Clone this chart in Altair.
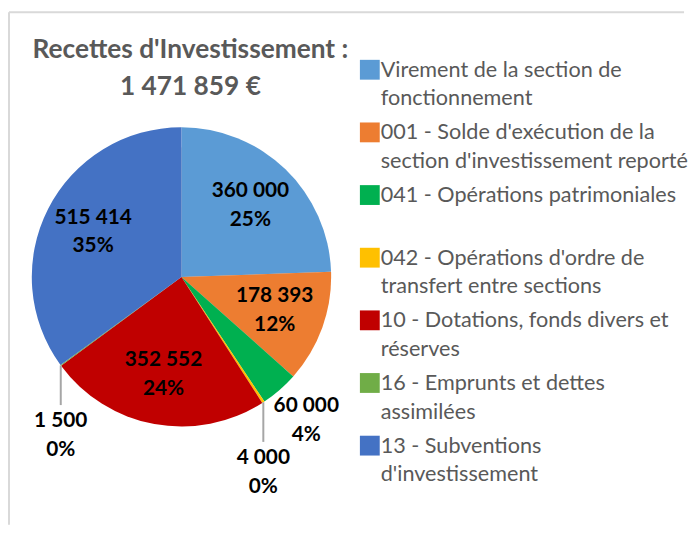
import altair as alt
import pandas as pd

categories = [
    "Virement de la section de fonctionnement",
    "001 - Solde d'exécution de la section d'investissement reporté",
    "041 - Opérations patrimoniales",
    "042 - Opérations d'ordre de transfert entre sections",
    "10 - Dotations, fonds divers et réserves",
    "16 - Emprunts et dettes assimilées",
    "13 - Subventions d'investissement",
]
legend_line1 = [
    "Virement de la section de",
    "001 - Solde d'exécution de la",
    "041 - Opérations patrimoniales",
    "042 - Opérations d'ordre de",
    "10 - Dotations, fonds divers et",
    "16 - Emprunts et dettes",
    "13 - Subventions",
]
legend_line2 = [
    "fonctionnement",
    "section d'investissement reporté",
    "",
    "transfert entre sections",
    "réserves",
    "assimilées",
    "d'investissement",
]
values = [360000, 178393, 60000, 4000, 352552, 1500, 515414]
colors = ["#5B9BD5", "#ED7D31", "#00B050", "#FFC000", "#C00000", "#70AD47", "#4472C4"]
title_lines = ["Recettes d'Investissement :", "1 471 859 €"]

# percentages rounded so that they sum to 100 (largest remainder)
total = sum(values)
raw = [v * 100 / total for v in values]
floors = [int(r) for r in raw]
rest = 100 - sum(floors)
order = sorted(range(len(raw)), key=lambda i: raw[i] - floors[i], reverse=True)
pcts = floors[:]
for i in order[:rest]:
    pcts[i] += 1

df = pd.DataFrame({
    "idx": list(range(len(values))),
    "cat": categories,
    "l1": legend_line1,
    "l2": legend_line2,
    "value": values,
    "vlab": [f"{v:,}".replace(",", " ") for v in values],
    "plab": [f"{p}%" for p in pcts],
})

W, H = 681, 519
CX, CY, R = 174, 269, 151
RIN, ROUT = 100, 192
FONT = "Lato"
GRAY = "#595959"

base = (
    alt.Chart(df)
    .transform_window(cum="sum(value)", sort=[alt.SortField("idx")], frame=[None, 0])
    .transform_joinaggregate(total="sum(value)")
    .transform_calculate(
        mid="(datum.cum - datum.value / 2) / datum.total * 2 * PI",
        share="datum.value / datum.total",
    )
    .transform_calculate(
        ex=f"{CX} + {R} * sin(datum.mid)",
        ey=f"{CY} - {R} * cos(datum.mid)",
        lr=f"datum.share >= 0.1 ? {RIN} : {ROUT}",
    )
    .transform_calculate(
        ey2="datum.ey + 40",
        lx=f"datum.share < 0.01 ? datum.ex : {CX} + datum.lr * sin(datum.mid)",
        ly=f"datum.share < 0.01 ? datum.ey + 71 : {CY} - datum.lr * cos(datum.mid)",
        legy="60 + datum.idx * 63.2",
    )
)

color = alt.Color("cat:N", scale=alt.Scale(domain=categories, range=colors), legend=None)

shadow = alt.Chart(pd.DataFrame({"a": [1]})).mark_circle(
    size=3.14159 * (R + 1) ** 2, color="#000000", opacity=0.12
).encode(x=alt.value(CX + 2), y=alt.value(CY + 4))

pie = base.mark_arc(radius=R).encode(
    theta=alt.Theta("value:Q", stack=True),
    color=color,
    order=alt.Order("idx:Q"),
    x=alt.value(CX),
    y=alt.value(CY),
)

X = lambda f: alt.X(f"{f}:Q", scale=None, axis=None)
Y = lambda f: alt.Y(f"{f}:Q", scale=None, axis=None)

lab1 = base.mark_text(font=FONT, fontSize=21, fontWeight="bold", color="#000000",
                      baseline="middle", align="center", dy=-14.5).encode(
    x=X("lx"), y=Y("ly"), text="vlab:N")
lab2 = base.mark_text(font=FONT, fontSize=21, fontWeight="bold", color="#000000",
                      baseline="middle", align="center", dy=14.5).encode(
    x=X("lx"), y=Y("ly"), text="plab:N")

leader = base.transform_filter("datum.share < 0.01").mark_rule(
    color="#A6A6A6", strokeWidth=2).encode(x=X("ex"), y=Y("ey"), y2="ey2:Q")

sq = base.mark_square(size=400, opacity=1).encode(
    x=alt.value(364), y=Y("legy"), color=color)
leg1 = base.mark_text(font=FONT, fontSize=21.8, color=GRAY, align="left",
                      baseline="middle").encode(x=alt.value(375), y=Y("legy"), text="l1:N")
leg2 = base.mark_text(font=FONT, fontSize=21.8, color=GRAY, align="left",
                      baseline="middle", dy=29).encode(x=alt.value(375), y=Y("legy"), text="l2:N")

tdf = pd.DataFrame({"t": title_lines, "k": [0, 1]})
title = alt.Chart(tdf).transform_calculate(ty="40 + datum.k * 37").mark_text(
    font=FONT, fontSize=26.5, fontWeight="bold", color=GRAY, align="center", baseline="middle"
).encode(x=alt.value(183), y=Y("ty"), text="t:N")

one = pd.DataFrame({"a": [1]})
border_top = alt.Chart(one).mark_rule(color="#D9D9D9", strokeWidth=2).encode(
    x=alt.value(0), x2=alt.value(W), y=alt.value(2))
border_left = alt.Chart(one).mark_rule(color="#D9D9D9", strokeWidth=2).encode(
    x=alt.value(0), y=alt.value(2), y2=alt.value(H))

chart = (
    alt.layer(border_top, border_left, shadow, pie, leader, lab1, lab2, sq, leg1, leg2, title)
    .resolve_scale(x="independent", y="independent")
    .properties(width=W, height=H, padding=0, background="white")
    .configure_view(stroke=None)
)

chart.save("out.html", embed_options={"renderer": "svg", "actions": False})
